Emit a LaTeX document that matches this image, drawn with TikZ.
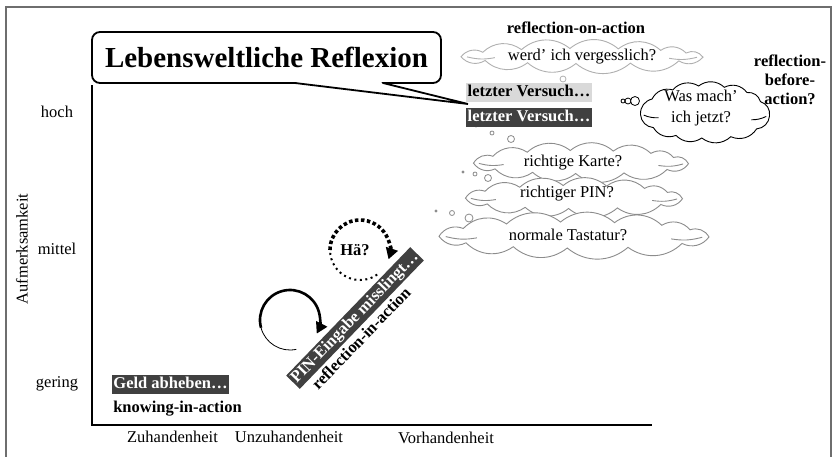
\documentclass[tikz,border=0pt]{standalone}
\usepackage{fontspec}
\setmainfont{Liberation Serif}
\usetikzlibrary{arrows.meta,calc}
\definecolor{boxdark}{HTML}{404040}
\definecolor{boxlight}{HTML}{D9D9D9}
\definecolor{cloudgray}{HTML}{8C8C8C}
\definecolor{lightcloud}{HTML}{B0B0B0}
\definecolor{framegray}{HTML}{6E6E6E}
% custom cloud: center x, center y, width, height, colour
\newcommand\wolke[5]{%
 \pgfmathsetmacro\wcx{#1}\pgfmathsetmacro\wcy{#2}%
 \pgfmathsetmacro\wrx{(#3-8)/2}\pgfmathsetmacro\wry{(#4-14)/2}%
 \draw[#5, line width=0.9pt, fill=white]
   ({\wcx-\wrx},{\wcy+0.1*\wry}) to[bl] ({\wcx-0.82*\wrx},{\wcy-0.5*\wry})
   to[bl] ({\wcx-0.5*\wrx},{\wcy-0.85*\wry}) to[bl] ({\wcx-0.1*\wrx},{\wcy-\wry})
   to[bl] ({\wcx+0.3*\wrx},{\wcy-0.95*\wry}) to[bl] ({\wcx+0.65*\wrx},{\wcy-0.75*\wry})
   to[bl] ({\wcx+0.86*\wrx},{\wcy-0.4*\wry}) to[bl] ({\wcx+\wrx},{\wcy+0.15*\wry})
   to[bl] ({\wcx+0.8*\wrx},{\wcy+0.65*\wry}) to[bl] ({\wcx+0.4*\wrx},{\wcy+0.95*\wry})
   to[bl] ({\wcx-0.05*\wrx},{\wcy+\wry}) to[bl] ({\wcx-0.45*\wrx},{\wcy+0.9*\wry})
   to[bl] ({\wcx-0.8*\wrx},{\wcy+0.6*\wry}) to[bl] ({\wcx-\wrx},{\wcy+0.1*\wry}) -- cycle;
 \draw[#5, line width=0.9pt] ({\wcx-0.95*\wrx},{\wcy+0.12*\wry}) to[bend right=12] ({\wcx-0.72*\wrx},{\wcy+0.22*\wry});
 \draw[#5, line width=0.9pt] ({\wcx+0.95*\wrx},{\wcy+0.17*\wry}) to[bend left=12] ({\wcx+0.72*\wrx},{\wcy+0.3*\wry});
}
\begin{document}
\begin{tikzpicture}[x=1pt,y=-1pt,
 bl/.style={bend left=40},
 txt/.style={font=\fontsize{16.5}{19}\selectfont, inner sep=0pt},
 btxt/.style={font=\fontsize{16.5}{19}\selectfont\bfseries, inner sep=0pt},
 dbox/.style={fill=boxdark, text=white, font=\fontsize{16.5}{19}\selectfont\bfseries, inner xsep=1.5pt, inner ysep=1.5pt, text height=12pt, text depth=4pt},
 lbox/.style={dbox, fill=boxlight, text=black},
 bubble/.style={circle, draw=cloudgray, line width=0.8pt, fill=white, inner sep=0pt},
 tipA/.style={-{Triangle[length=11pt,width=12pt]}},
]
\useasboundingbox (0,0) rectangle (837,456);
% frame
\draw[framegray, line width=1.2pt] (6,460) -- (6,7) -- (831,7) -- (831,460);
% axes
\coordinate (ytop) at (92,85);
\coordinate (o) at (92,425);
\coordinate (xend) at (652,425);
\draw[line width=1.8pt] (ytop) -- (o) -- (xend);
% axis labels
\node[txt] (hoch) at (57,112) {hoch};
\node[txt] (mittel) at (57,249) {mittel};
\node[txt] (gering) at (57,384) {gering};
\node[txt, rotate=90] (aufm) at (22,249) {Aufmerksamkeit};
\node[txt] (zu) at (172.5,437) {Zuhandenheit};
\node[txt] (unzu) at (289,437) {Unzuhandenheit};
\node[txt] (vor) at (446,438) {Vorhandenheit};
% title callout
\node[draw, line width=1.8pt, rounded corners=8pt, minimum width=349pt, minimum height=51pt, font=\fontsize{29}{32}\selectfont\bfseries, fill=white] (title) at (266.5,57.5) {Lebensweltliche Reflexion};
\coordinate (t1) at (295,83);
\coordinate (t2) at (383,83);
\coordinate (tip) at (468,104);
\fill[white] ($(t1)+(2,-1.3)$) -- ($(t2)+(-2,-1.3)$) -- ($(t2)+(0,1.5)$) -- (tip) -- ($(t1)+(0,1.5)$) -- cycle;
\draw[line width=1.8pt] (t1) -- (tip) -- (t2);
% top labels
\node[btxt] (roa) at (576,28) {reflection-on-action};
\node[btxt, align=center, font=\fontsize{16.5}{19}\selectfont\bfseries] (rba) at (790,80) {reflection-\\before-\\action?};
% clouds
\wolke{582}{56}{250}{29}{lightcloud}
\node[txt] (c0) at (582,57) {werd’ ich vergesslich?};
\wolke{581}{162}{223}{37}{cloudgray}
\node[txt] (c1) at (573,163) {richtige Karte?};
\wolke{574}{197}{225}{37}{cloudgray}
\node[txt] (c2) at (567,194) {richtiger PIN?};
\wolke{574}{235}{278}{40}{cloudgray}
\node[txt] (c3) at (568,235) {normale Tastatur?};
\wolke{705}{112}{137}{66}{black}
\node[txt, align=center, font=\fontsize{16.5}{21}\selectfont] (c4) at (701,108) {Was mach’\\ich jetzt?};
% bubbles
\node[bubble, draw=lightcloud, minimum size=6pt] (b01) at (563,79) {};
\node[bubble, draw=lightcloud, minimum size=3pt] (b02) at (556,85) {};
\node[bubble, minimum size=2pt] (b11) at (476,126) {};
\node[bubble, minimum size=4pt] (b12) at (492,133) {};
\node[bubble, minimum size=7pt] (b13) at (511,139) {};
\node[bubble, minimum size=2pt] (b21) at (463,172) {};
\node[bubble, minimum size=4pt] (b22) at (475,174) {};
\node[bubble, minimum size=7pt] (b23) at (488,178) {};
\node[bubble, minimum size=2pt] (b31) at (436,211) {};
\node[bubble, minimum size=5pt] (b32) at (452,213) {};
\node[bubble, minimum size=8pt] (b33) at (469,218) {};
\node[bubble, draw=black, minimum size=4pt] (b41) at (623,101) {};
\node[bubble, draw=black, minimum size=6pt] (b42) at (628,101) {};
\node[bubble, draw=black, minimum size=9pt] (b43) at (635,101) {};
% boxes
\node[lbox] (lv1) at (529,92) {letzter Versuch…};
\node[dbox] (lv2) at (529,117) {letzter Versuch…};
\node[dbox] (geld) at (170.5,384) {Geld abheben…};
\node[btxt] (kia) at (177.5,409) {knowing-in-action};
% rotated bar
\node[dbox, rotate=46] (pin) at (355,318) {PIN-Eingabe misslingt…};
\node[btxt, rotate=46] (ria) at (361,338) {reflection-in-action};
% solid loop arrow
\coordinate (lc) at (290,320);
\draw[line width=0.8pt] ($(lc)+(282:30pt)$) arc[start angle=282, end angle=195, radius=30pt];
\draw[line width=2.6pt, tipA] ($(lc)+(195:30pt)$) arc[start angle=195, end angle=-27, radius=30pt];
% dotted loop arrow
\coordinate (hc) at (360,250);
\node[btxt] (hae) at (355,250) {Hä?};
\draw[line width=2pt, dash pattern=on 2pt off 3.5pt] ($(hc)+(-55:30pt)$) arc[start angle=-55, end angle=-180, radius=30pt];
\draw[line width=3.6pt, dash pattern=on 3.5pt off 2.5pt, tipA] ($(hc)+(180:30pt)$) arc[start angle=180, end angle=-18, radius=30pt];
\end{tikzpicture}
\end{document}
